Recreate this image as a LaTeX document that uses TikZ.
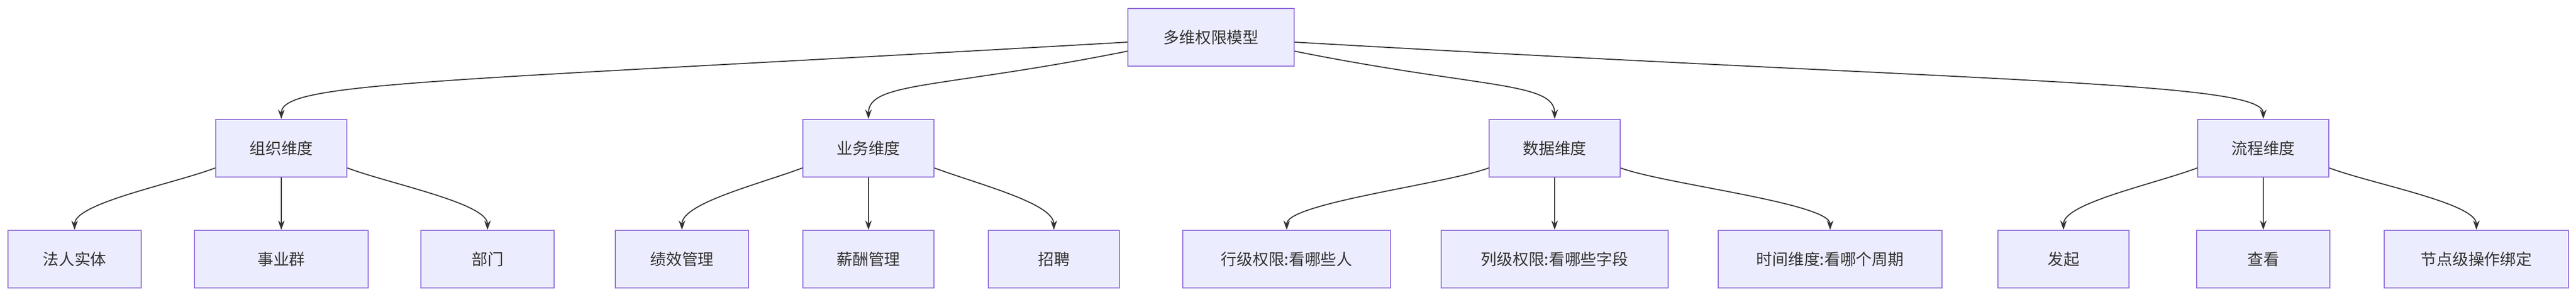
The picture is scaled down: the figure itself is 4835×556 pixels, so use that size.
\documentclass[tikz,border=0pt]{standalone}
\usepackage{fontspec}
\setmainfont{Noto Sans CJK SC}
\usetikzlibrary{arrows.meta}
\definecolor{nfill}{HTML}{ECECFF}
\definecolor{nline}{HTML}{9370DB}
\definecolor{eline}{HTML}{333333}
\begin{document}
\begin{tikzpicture}[x=0.02cm,y=-0.02cm,
  box/.style={draw=nline,fill=nfill,line width=1.1pt,minimum height=108*0.02cm,inner sep=0pt,font=\fontsize{17}{20}\selectfont,text=eline},
  edge/.style={draw=eline,line width=1.1pt,-{Stealth[length=10pt,width=7pt]}}]
\useasboundingbox[fill=white] (0,0) rectangle (4835,556);
\node[box,minimum width=312*0.02cm] (root) at (2273,70) {多维权限模型};
\foreach \n/\x/\t in {a/528/组织维度,b/1630/业务维度,c/2918/数据维度,d/4248/流程维度}
  \node[box,minimum width=246*0.02cm] (\n) at (\x,278) {\t};
\foreach \n/\x/\w/\t in {a1/140/250/法人实体,a2/528/326/事业群/事业部,a3/915/250/部门/岗位,
  b1/1280/250/绩效管理,b2/1630/246/薪酬管理,b3/1978/246/招聘/培训,
  c1/2415/390/行级权限:看哪些人,c2/2918/426/列级权限:看哪些字段,c3/3435/420/时间维度:看哪个周期,
  d1/3873/246/发起/审批,d2/4248/250/查看/导出,d3/4648/346/节点级操作绑定}
  \node[box,minimum width=\w*0.02cm] (\n) at (\x,486) {\t};
\draw[edge] ([yshift=-9*0.02cm]root.west) .. controls +(-1300,75) and +(0,-70) .. (a.north);
\draw[edge] ([yshift=-26*0.02cm]root.west) .. controls +(-350,70) and +(0,-70) .. (b.north);
\draw[edge] ([yshift=-26*0.02cm]root.east) .. controls +(350,70) and +(0,-70) .. (c.north);
\draw[edge] ([yshift=-9*0.02cm]root.east) .. controls +(1300,75) and +(0,-70) .. (d.north);
\foreach \p in {a,b,c,d}{
  \draw[edge] ([yshift=-37*0.02cm]\p.west) .. controls +(-80,30) and +(0,-50) .. (\p1.north);
  \draw[edge] (\p.south) -- (\p2.north);
  \draw[edge] ([yshift=-37*0.02cm]\p.east) .. controls +(80,30) and +(0,-50) .. (\p3.north);
}
\end{tikzpicture}
\end{document}
